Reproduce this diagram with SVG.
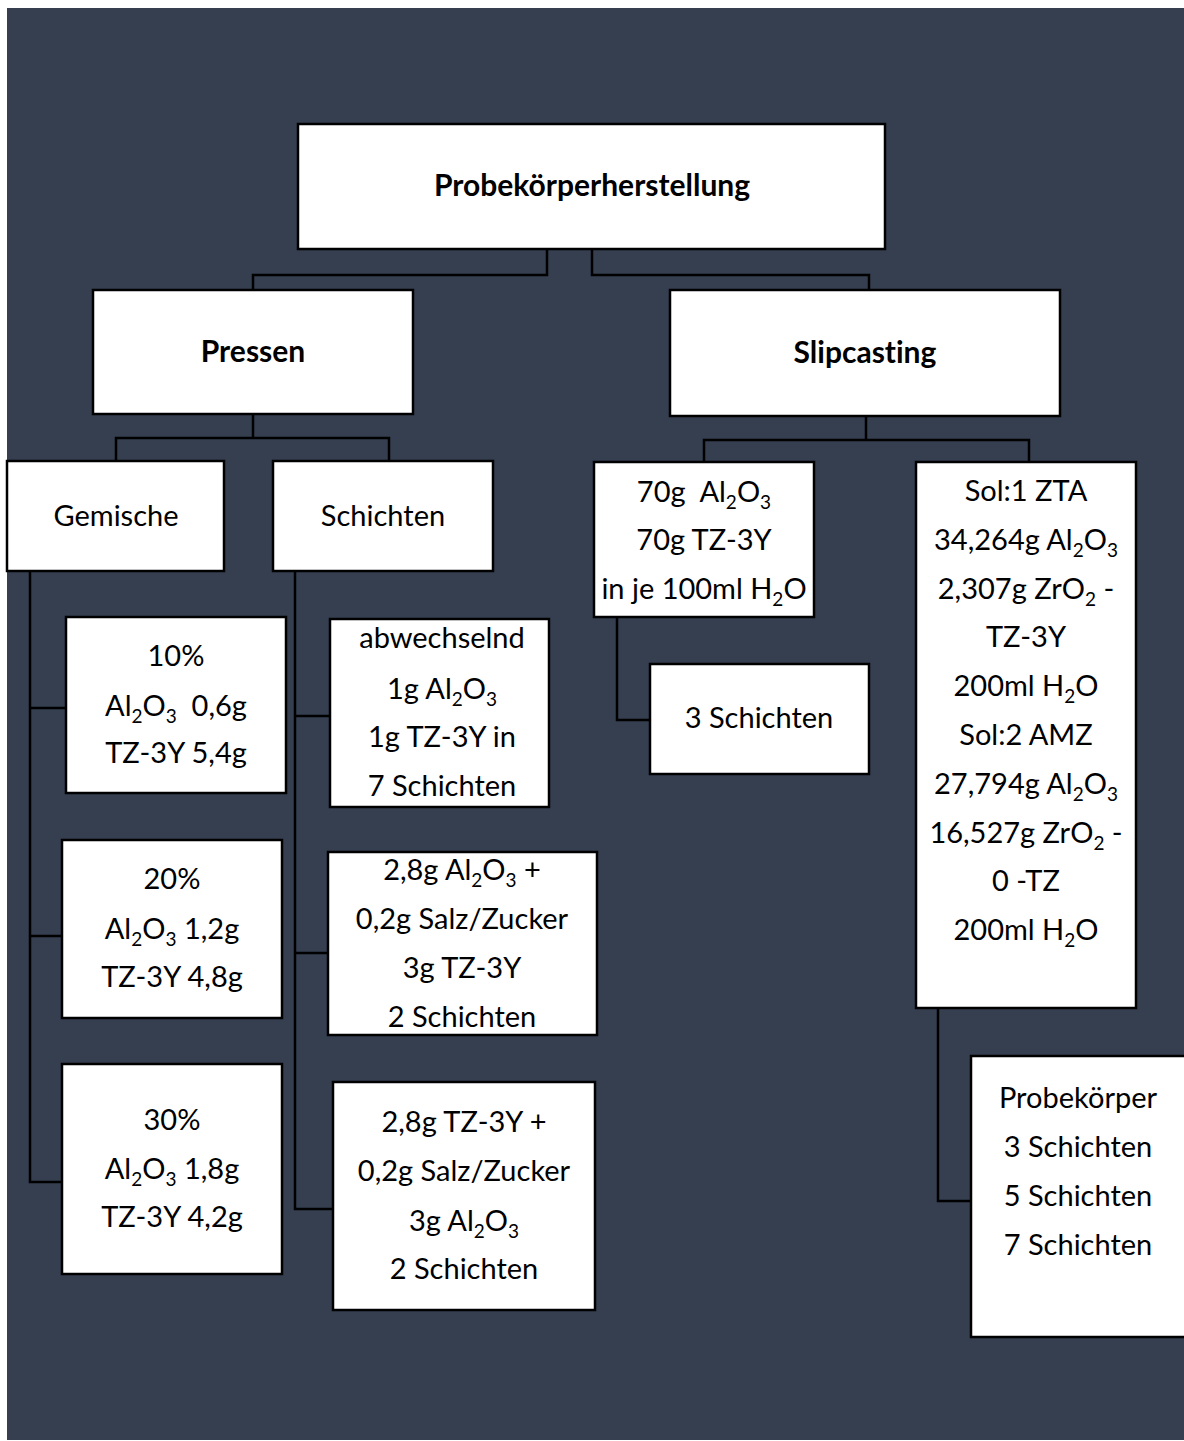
<svg xmlns="http://www.w3.org/2000/svg" width="1184" height="1441" viewBox="0 0 1184 1441">
<style>
.box{fill:#ffffff;stroke:#000000;stroke-width:2.5}
.con{fill:none;stroke:#000000;stroke-width:2.5}
text{font-family:Lato,"Open Sans","Liberation Sans",sans-serif;font-size:29px;fill:#000000;text-anchor:middle;white-space:pre;font-variant-ligatures:none}
.b{font-weight:bold;font-size:30px}
.s{font-size:19px}
</style>
<rect x="0" y="0" width="1184" height="1441" fill="#ffffff"/>
<rect x="7" y="8" width="1177" height="1432" fill="#353f50"/>
<g id="connectors">
<polyline class="con" points="547,249 547,275 253,275 253,290"/>
<polyline class="con" points="592,249 592,275 869,275 869,290"/>
<polyline class="con" points="253,414 253,438"/>
<polyline class="con" points="116,461 116,438 389,438 389,461"/>
<polyline class="con" points="866,416 866,440"/>
<polyline class="con" points="704,462 704,440 1029,440 1029,462"/>
<polyline class="con" points="30,571 30,1182 62,1182"/>
<line class="con" x1="30" y1="708" x2="66" y2="708"/>
<line class="con" x1="30" y1="936" x2="62" y2="936"/>
<polyline class="con" points="295,571 295,1209 333,1209"/>
<line class="con" x1="295" y1="716" x2="330" y2="716"/>
<line class="con" x1="295" y1="953" x2="328" y2="953"/>
<polyline class="con" points="617,617 617,720 650,720"/>
<polyline class="con" points="938,1008 938,1201 971,1201"/>
</g>
<g id="n-root"><rect class="box" x="298" y="124" width="587" height="125"/><text class="b" x="592" y="196">Probekörperherstellung</text></g>
<g id="n-pressen"><rect class="box" x="93" y="290" width="320" height="124"/><text class="b" x="253" y="362">Pressen</text></g>
<g id="n-slip"><rect class="box" x="670" y="290" width="390" height="126"/><text class="b" x="865" y="363">Slipcasting</text></g>
<g id="n-gemische"><rect class="box" x="7" y="461" width="217" height="110"/><text x="116" y="526">Gemische</text></g>
<g id="n-schichten"><rect class="box" x="273" y="461" width="220" height="110"/><text x="383" y="526">Schichten</text></g>
<g id="n-70g"><rect class="box" x="594" y="462" width="220" height="155"/>
<text x="704" y="502">70g  Al<tspan class="s" dy="7">2</tspan><tspan dy="-7">O</tspan><tspan class="s" dy="7">3</tspan></text>
<text x="704" y="550">70g TZ-3Y</text>
<text x="704" y="599">in je 100ml H<tspan class="s" dy="7">2</tspan><tspan dy="-7">O</tspan></text>
</g>
<g id="n-3s"><rect class="box" x="650" y="664" width="219" height="110"/><text x="759" y="728">3 Schichten</text></g>
<g id="n-sol"><rect class="box" x="916" y="462" width="220" height="546"/>
<text x="1026" y="501">Sol:1 ZTA</text>
<text x="1026" y="550">34,264g Al<tspan class="s" dy="7">2</tspan><tspan dy="-7">O</tspan><tspan class="s" dy="7">3</tspan></text>
<text x="1026" y="599">2,307g ZrO<tspan class="s" dy="7">2</tspan><tspan dy="-7"> -</tspan></text>
<text x="1026" y="647">TZ-3Y</text>
<text x="1026" y="696">200ml H<tspan class="s" dy="7">2</tspan><tspan dy="-7">O</tspan></text>
<text x="1026" y="745">Sol:2 AMZ</text>
<text x="1026" y="794">27,794g Al<tspan class="s" dy="7">2</tspan><tspan dy="-7">O</tspan><tspan class="s" dy="7">3</tspan></text>
<text x="1026" y="843">16,527g ZrO<tspan class="s" dy="7">2</tspan><tspan dy="-7"> -</tspan></text>
<text x="1026" y="891">0 -TZ</text>
<text x="1026" y="940">200ml H<tspan class="s" dy="7">2</tspan><tspan dy="-7">O</tspan></text>
</g>
<g id="n-probe"><rect class="box" x="971" y="1056" width="220" height="281"/>
<text x="1078" y="1108">Probekörper</text>
<text x="1078" y="1157">3 Schichten</text>
<text x="1078" y="1206">5 Schichten</text>
<text x="1078" y="1255">7 Schichten</text>
</g>
<g id="n-10"><rect class="box" x="66" y="617" width="220" height="176"/>
<text x="176" y="666">10%</text>
<text x="176" y="716">Al<tspan class="s" dy="7">2</tspan><tspan dy="-7">O</tspan><tspan class="s" dy="7">3</tspan><tspan dy="-7">  0,6g</tspan></text>
<text x="176" y="763">TZ-3Y 5,4g</text>
</g>
<g id="n-20"><rect class="box" x="62" y="840" width="220" height="178"/>
<text x="172" y="889">20%</text>
<text x="172" y="939">Al<tspan class="s" dy="7">2</tspan><tspan dy="-7">O</tspan><tspan class="s" dy="7">3</tspan><tspan dy="-7"> 1,2g</tspan></text>
<text x="172" y="987">TZ-3Y 4,8g</text>
</g>
<g id="n-30"><rect class="box" x="62" y="1064" width="220" height="210"/>
<text x="172" y="1130">30%</text>
<text x="172" y="1179">Al<tspan class="s" dy="7">2</tspan><tspan dy="-7">O</tspan><tspan class="s" dy="7">3</tspan><tspan dy="-7"> 1,8g</tspan></text>
<text x="172" y="1227">TZ-3Y 4,2g</text>
</g>
<g id="n-abw"><rect class="box" x="330" y="619" width="219" height="188"/>
<text x="442" y="648">abwechselnd</text>
<text x="442" y="699">1g Al<tspan class="s" dy="7">2</tspan><tspan dy="-7">O</tspan><tspan class="s" dy="7">3</tspan></text>
<text x="442" y="747">1g TZ-3Y in</text>
<text x="442" y="796">7 Schichten</text>
</g>
<g id="n-28al"><rect class="box" x="328" y="852" width="269" height="183"/>
<text x="462" y="880">2,8g Al<tspan class="s" dy="7">2</tspan><tspan dy="-7">O</tspan><tspan class="s" dy="7">3</tspan><tspan dy="-7"> +</tspan></text>
<text x="462" y="929">0,2g Salz/Zucker</text>
<text x="462" y="978">3g TZ-3Y</text>
<text x="462" y="1027">2 Schichten</text>
</g>
<g id="n-28tz"><rect class="box" x="333" y="1082" width="262" height="228"/>
<text x="464" y="1132">2,8g TZ-3Y +</text>
<text x="464" y="1181">0,2g Salz/Zucker</text>
<text x="464" y="1231">3g Al<tspan class="s" dy="7">2</tspan><tspan dy="-7">O</tspan><tspan class="s" dy="7">3</tspan></text>
<text x="464" y="1279">2 Schichten</text>
</g>
</svg>
